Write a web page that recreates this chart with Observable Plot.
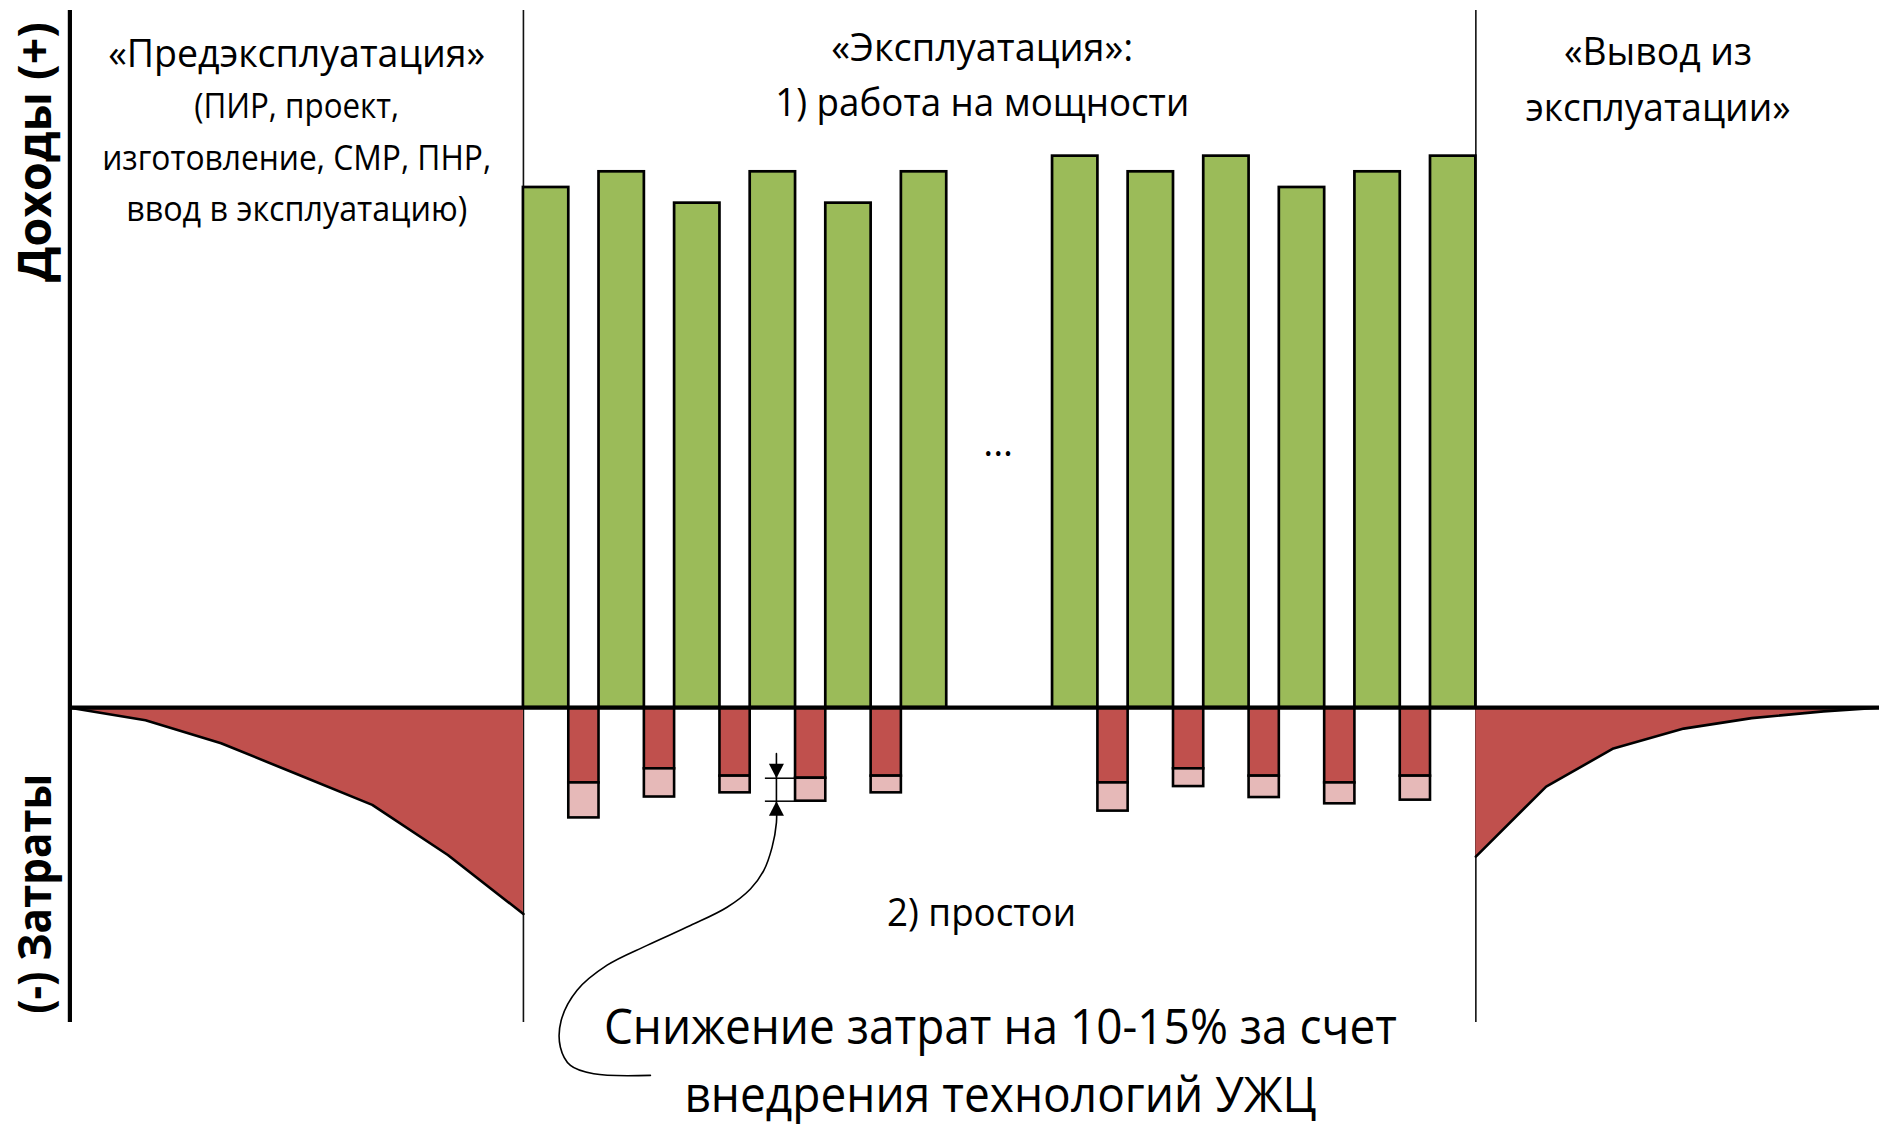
<!DOCTYPE html>
<html>
<head>
<meta charset="utf-8">
<script src="https://cdn.jsdelivr.net/npm/d3@7"></script>
<script src="https://cdn.jsdelivr.net/npm/@observablehq/plot@0.6"></script>
<style>
  html, body { margin: 0; padding: 0; background: #ffffff; }
  #chart svg { display: block; }
</style>
</head>
<body>
<div id="chart"></div>
<script>
// ---------------- DATA (periods along the life cycle; values in relative money units) ----------------
// Pre-exploitation: cumulative cost curve
const prePeriods = [0, 1, 2, 3, 4, 5, 6];
const preCost    = [0, 2.4, 6.8, 12.7, 18.6, 28.2, 39.5];

// Exploitation: revenue bars ("работа на мощности")
const opPeriods = [6, 7, 8, 9, 10, 11, 13, 14, 15, 16, 17, 18];
const revenue   = [99.6, 102.6, 96.6, 102.6, 96.6, 102.6, 105.6, 102.6, 105.6, 99.6, 102.6, 105.6];

// Exploitation: downtime costs ("простои") and the savings part
const idlePeriods = [6, 7, 8, 9, 10, 13, 14, 15, 16, 17];
const idleCost    = [14.4, 11.7, 13.1, 13.5, 13.1, 14.4, 11.7, 13.1, 14.4, 13.1];
const idleSaving  = [6.7, 5.4, 3.2, 4.4, 3.2, 5.4, 3.4, 4.1, 4.0, 4.6];

// Decommissioning: cost curve
const postPeriods = [18.6, 19.53, 20.42, 21.35, 22.25, 23.2, 23.94];
const postCost    = [28.5, 15.1, 7.8, 4.0, 2.0, 0.7, 0];

// Phase boundaries
const phaseDividers = [6, 18.6];

// Texts
const phaseTexts = [
  "«Предэксплуатация»", "(ПИР, проект,", "изготовление, СМР, ПНР,", "ввод в эксплуатацию)",
  "«Эксплуатация»:", "1) работа на мощности",
  "«Вывод из", "эксплуатации»",
  "...", "2) простои",
  "Снижение затрат на 10-15% за счет", "внедрения технологий УЖЦ"
];
const axisTexts = ["Доходы (+)", "(-) Затраты"];

// ---------------- LAYOUT (annotation anchors in data units, sizes) ----------------
const textLayout = [
  {u: 3.0,   v: 125.0, size: 38, width: 377},
  {u: 3.0,   v: 114.9, size: 34, width: 205},
  {u: 3.0,   v: 105.1, size: 34, width: 389},
  {u: 3.0,   v: 95.2,  size: 34, width: 341},
  {u: 12.07, v: 126.2, size: 38, width: 302},
  {u: 12.07, v: 115.7, size: 38, width: 414},
  {u: 21.01, v: 125.3, size: 38, width: 188},
  {u: 21.01, v: 114.7, size: 38, width: 265},
  {u: 12.28, v: 50.6,  size: 38, width: 0},
  {u: 12.06, v: -39.4, size: 38, width: 189},
  {u: 12.31, v: -61.4, size: 50, width: 793},
  {u: 12.31, v: -74.4, size: 50, width: 632}
];
const axisLayout = [
  {u: -0.44, v: 106.4, width: 260},
  {u: -0.44, v: -35.6, width: 240}
];
const frameTop = 133.5, frameBottom = -60.25, rightEnd = 23.94;
const markedIdle = 9;            // downtime bar with the dimension arrows
const dimX = 9.347, dimExt = 9.201, dimTop = -8.8;
const leaderPath = [
  [9.347, -22.0], [9.290, -26.7], [9.179, -31.2], [9.003, -34.7], [8.694, -38.2],
  [8.209, -41.7], [7.636, -45.5], [7.107, -49.3], [6.710, -54.1], [6.499, -59.9],
  [6.489, -65.0], [6.622, -68.5], [6.930, -70.1], [7.680, -70.4]
];

const GREEN = "#9BBB59", RED = "#C0504D", PINK = "#E6B9B8";

// ---------------- BUILD TABLES ----------------
const pre  = prePeriods.map((p, i) => ({p, c: preCost[i]}));
const post = postPeriods.map((p, i) => ({p, c: postCost[i]}));
const ops  = opPeriods.map((p, i) => ({p, r: revenue[i]}));
const idle = idlePeriods.map((p, i) => ({p, c: idleCost[i], s: idleSaving[i]}));
const labels = phaseTexts.map((t, i) => ({text: t, ...textLayout[i]}));
const axisLabels = axisTexts.map((t, i) => ({text: t, ...axisLayout[i]}));
const mk = idle.find(d => d.p === markedIdle);
const dimLines = [
  {y: -mk.c, x1: dimExt, x2: mk.p + 0.6},
  {y: -(mk.c + mk.s), x1: dimExt, x2: mk.p + 0.6}
];
const leader = [[dimX, dimTop], [dimX, -mk.c], [dimX, -(mk.c + mk.s)], ...leaderPath]
  .map(([u, v]) => ({u, v}));

const triDown = {draw(ctx) { ctx.moveTo(0, 0); ctx.lineTo(-7.5, -14.5); ctx.lineTo(7.5, -14.5); ctx.closePath(); }};
const triUp   = {draw(ctx) { ctx.moveTo(0, 0); ctx.lineTo(-7.5, 14.5); ctx.lineTo(7.5, 14.5); ctx.closePath(); }};

const chart = Plot.plot({
  width: 1879,
  height: 1124,
  margin: 0,
  x: {domain: [-0.918, 23.94], axis: null},
  y: {domain: [-79.8, 135.4], axis: null},
  style: {fontFamily: "'Open Sans', 'Noto Sans', sans-serif", background: "#ffffff", color: "#000"},
  marks: [
    // phase dividers
    Plot.ruleX(phaseDividers, {y1: frameBottom, y2: frameTop, stroke: "#111", strokeWidth: 1.6}),
    // pre-exploitation cost
    Plot.areaY(pre, {x: "p", y: d => -d.c, fill: RED}),
    Plot.lineY(pre, {x: "p", y: d => -d.c, stroke: "#000", strokeWidth: 2.6}),
    // decommissioning cost
    Plot.areaY(post, {x: "p", y: d => -d.c, fill: RED}),
    Plot.lineY(post, {x: "p", y: d => -d.c, stroke: "#000", strokeWidth: 2.6}),
    // revenue bars
    Plot.rect(ops, {x1: "p", x2: d => d.p + 0.6, y1: 0, y2: "r", fill: GREEN, stroke: "#000", strokeWidth: 2.7}),
    // downtime costs
    Plot.rect(idle, {x1: d => d.p + 0.6, x2: d => d.p + 1, y1: 0, y2: d => -d.c, fill: RED, stroke: "#000", strokeWidth: 2.6}),
    Plot.rect(idle, {x1: d => d.p + 0.6, x2: d => d.p + 1, y1: d => -d.c, y2: d => -(d.c + d.s), fill: PINK, stroke: "#000", strokeWidth: 2.6}),
    // baseline and left axis
    Plot.ruleY([0], {x1: 0, x2: rightEnd, stroke: "#000", strokeWidth: 4.2}),
    Plot.ruleX([0], {y1: frameBottom, y2: frameTop, stroke: "#000", strokeWidth: 4.2}),
    // dimension annotation
    Plot.ruleY(dimLines, {y: "y", x1: "x1", x2: "x2", stroke: "#000", strokeWidth: 1.5}),
    Plot.line(leader, {x: "u", y: "v", curve: "catmull-rom", stroke: "#000", strokeWidth: 1.6}),
    Plot.dot([{u: dimX, v: -mk.c}], {x: "u", y: "v", symbol: triDown, fill: "#000", stroke: "none", r: 6}),
    Plot.dot([{u: dimX, v: -(mk.c + mk.s)}], {x: "u", y: "v", symbol: triUp, fill: "#000", stroke: "none", r: 6}),
    // texts
    Plot.text(labels, {x: "u", y: "v", text: "text", fontSize: "size", fill: "#000", textAnchor: "middle", lineAnchor: "middle"}),
    Plot.text(axisLabels, {x: "u", y: "v", text: "text", fontSize: 46, fontWeight: "bold", rotate: -90, fill: "#000", textAnchor: "middle", lineAnchor: "middle"})
  ]
});

// fit text widths to the reference
const widths = new Map([...labels, ...axisLabels].filter(d => d.width > 0).map(d => [d.text, d.width]));
d3.select(chart).selectAll("text").each(function() {
  const w = widths.get(this.textContent);
  if (w) { this.setAttribute("textLength", w); this.setAttribute("lengthAdjust", "spacingAndGlyphs"); }
});

document.getElementById("chart").appendChild(chart);
</script>
</body>
</html>
